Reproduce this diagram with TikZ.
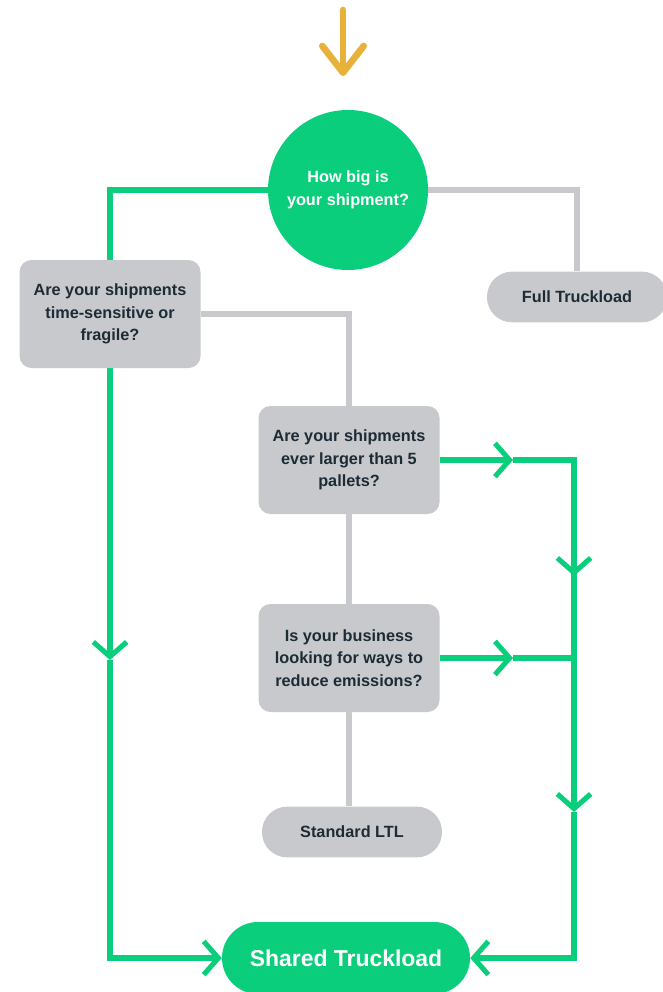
\documentclass[tikz,border=0pt]{standalone}
\usepackage{fontspec}
\setmainfont{Liberation Sans}
\usetikzlibrary{arrows.meta,backgrounds}
\definecolor{qgreen}{RGB}{10,206,124}
\definecolor{qgray}{RGB}{200,201,204}
\definecolor{qyellow}{RGB}{232,177,58}
\definecolor{qtext}{RGB}{29,43,53}

\begin{document}
\begin{tikzpicture}[x=0.75pt,y=-0.75pt]
\tikzstyle{question}=[rectangle, rounded corners=9pt, fill=qgray, text=qtext, minimum width=135.75pt, minimum height=81pt, align=center, inner sep=0pt, font=\fontsize{12.2}{17}\selectfont\bfseries]
\tikzstyle{answer}=[rectangle, rounded corners=18.75pt, fill=qgray, text=qtext, minimum width=135pt, minimum height=38pt, inner sep=0pt, font=\fontsize{12.2}{17}\selectfont\bfseries]
\tikzstyle{gline}=[draw=qgreen, line width=5pt]
\tikzstyle{nline}=[draw=qgray, line width=5pt]
\tikzstyle{chev}=[-{Straight Barb[length=11pt,width=25pt,line width=3.8pt]}]
\useasboundingbox (0,0) rectangle (662,992);

\coordinate (in) at (343,10);
\coordinate (inend) at (343,76);
\coordinate (l1) at (110,660);
\coordinate (r0) at (574,460);
\coordinate (r1) at (574,576);
\coordinate (r2) at (574,658);
\coordinate (r3) at (574,812);
\coordinate (m1) at (513,460);
\coordinate (m2) at (513,658);

\node[circle, fill=qgreen, text=white, minimum size=120pt, inner sep=0pt, align=center, font=\fontsize{12.2}{17}\selectfont\bfseries] (q0) at (348,190) {How big is\\your shipment?};
\node[question] (q1) at (110,314) {Are your shipments\\time-sensitive or\\fragile?};
\node[question] (q2) at (349,460) {Are your shipments\\ever larger than 5\\pallets?};
\node[question] (q3) at (349,658) {Is your business\\looking for ways to\\reduce emissions?};
\node[answer] (ftl) at (577,297) {Full Truckload};
\node[answer] (ltl) at (352,832) {Standard LTL};
\node[answer, fill=qgreen, text=white, minimum width=186pt, minimum height=54pt, rounded corners=27pt, font=\fontsize{17.2}{20}\selectfont\bfseries] (stl) at (346,958) {Shared Truckload};

\draw[qyellow, line width=5pt, line cap=round, line join=round, -{Straight Barb[length=20pt,width=31pt,line width=5pt,round]}] (in) -- (inend);

\begin{scope}[on background layer]
% no / gray
\draw[nline] (q0.east) -| (ftl.north);
\draw[nline] (q1.east) -| (q2.north);
\draw[nline] (q2.south) -- (q3.north);
\draw[nline] (q3.south) -- (q3.south |- ltl.north);
% yes / green
\draw[gline] (q0.west) -| (q1.north);
\draw[gline, chev] (q1.south) -- (l1);
\draw[gline, chev] (l1) |- (stl.west);
\draw[gline, chev] (q2.east) -- (m1);
\draw[gline] (m1) -- (r0) -- (r1);
\draw[gline, chev] (r0) -- (r1);
\draw[gline, chev] (q3.east) -- (m2);
\draw[gline] (m2) -- (r2);
\draw[gline, chev] (r1) -- (r3);
\draw[gline, chev] (r3) |- (stl.east);
\end{scope}

\end{tikzpicture}
\end{document}
